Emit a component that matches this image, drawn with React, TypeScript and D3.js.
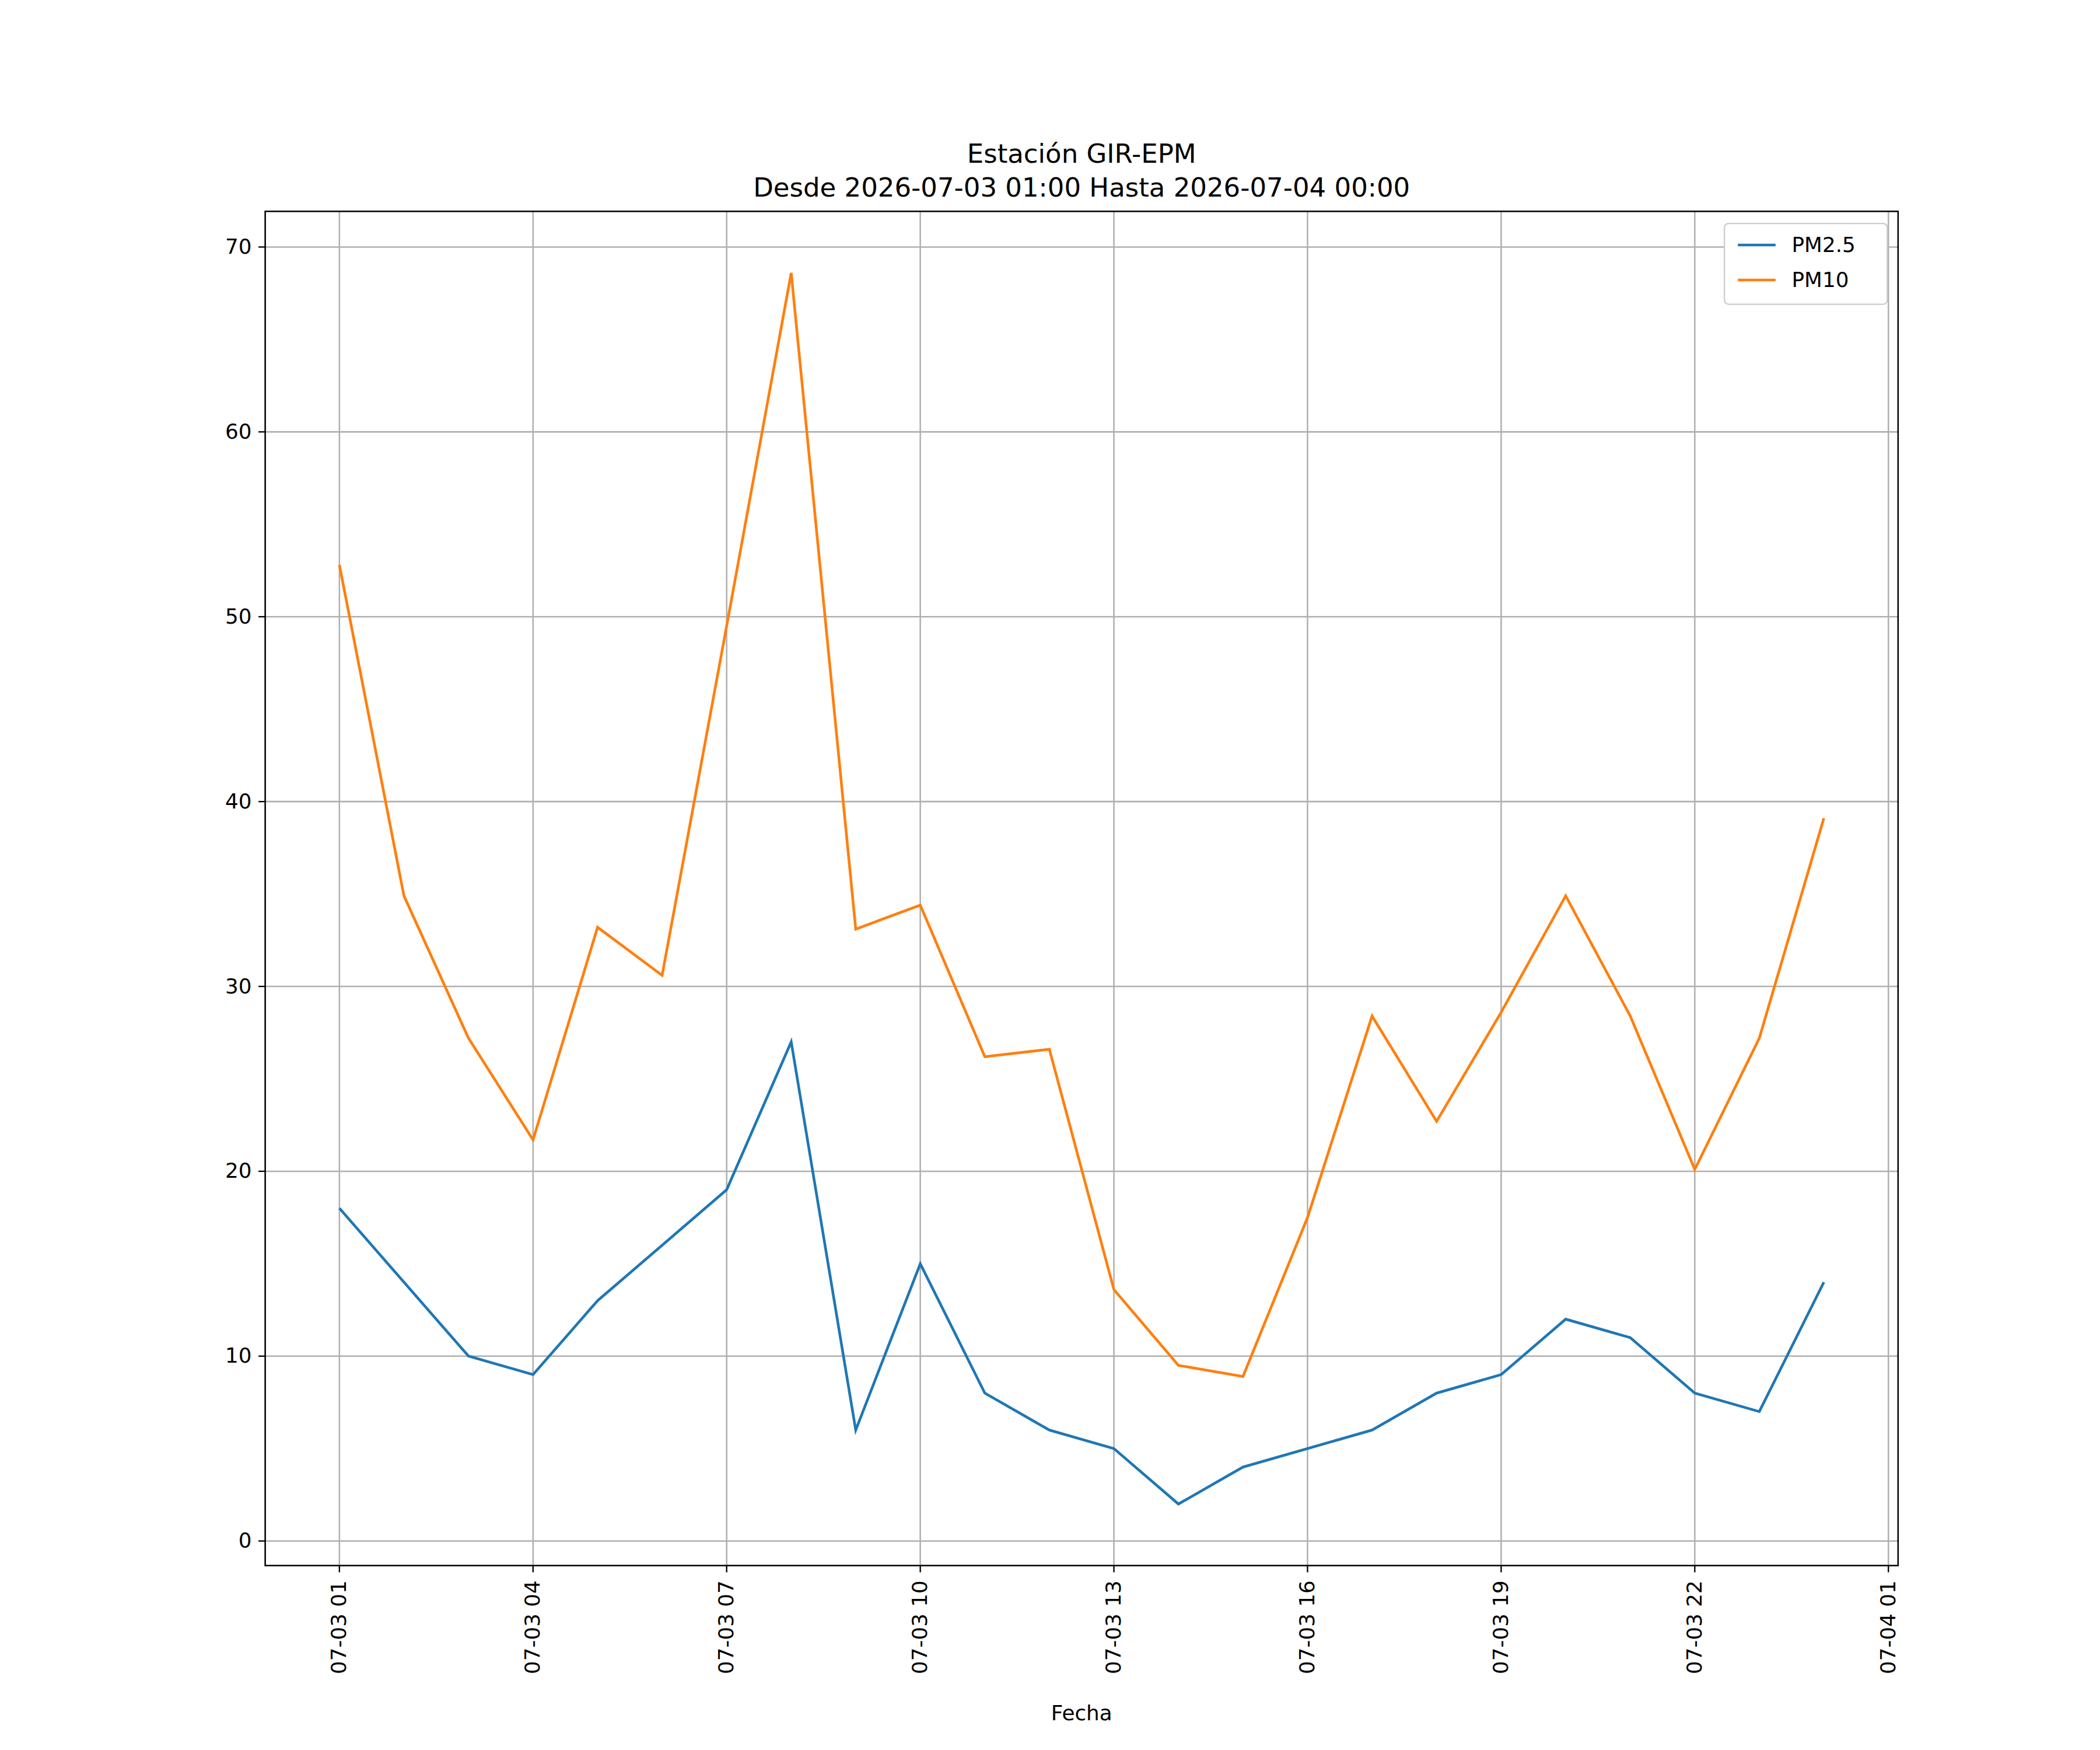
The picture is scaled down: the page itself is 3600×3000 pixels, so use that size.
import React from "react";
import * as d3 from "d3";

const hours = d3.range(24).map((i) => new Date(2026, 6, 3, 1 + i));
const pm25 = [18, 14, 10, 9, 13, 16, 19, 27, 6, 15, 8, 6, 5, 2, 4, 5, 6, 8, 9, 12, 11, 8, 7, 14];
const pm10 = [52.8, 34.9, 27.2, 21.7, 33.2, 30.6, 49.5, 68.6, 33.1, 34.4, 26.2, 26.6, 13.6, 9.5, 8.9, 17.5, 28.4, 22.7, 28.6, 34.9, 28.4, 20.1, 27.2, 39.1];
const xTicks = d3.range(9).map((i) => new Date(2026, 6, 3, 1 + i * 3));
const yTicks = [0, 10, 20, 30, 40, 50, 60, 70];
const series = [
  { name: "PM2.5", values: pm25, color: "#1f77b4" },
  { name: "PM10", values: pm10, color: "#ff7f0e" },
];

export default function App() {
  const L = 197, R = 1410, T = 157, B = 1163;
  const t0 = hours[0].getTime(), t1 = hours[23].getTime();
  const pad = (t1 - t0) * 0.05;
  const x = d3.scaleTime().domain([new Date(t0 - pad), new Date(t1 + pad)]).range([L, R]);
  const all = [...pm25, ...pm10];
  const mn = d3.min(all)!, mx = d3.max(all)!;
  const yp = (mx - mn) * 0.05;
  const y = d3.scaleLinear().domain([mn - yp, mx + yp]).range([B, T]);
  const fmt = d3.timeFormat("%m-%d %H");
  const line = (vals: number[]) =>
    d3.line<number>().x((_, i) => x(hours[i])).y((d) => y(d))(vals)!;

  return (
    <svg width={3600} height={3000} viewBox="0 0 1560 1300"
      style={{ fontFamily: "DejaVu Sans", position: "absolute", left: 0, top: 0 }}>
      <rect width={1560} height={1300} fill="#fff" />
      <text x={(L + R) / 2} y={121} textAnchor="middle" fontSize={19.5}>Estación GIR-EPM</text>
      <text x={(L + R) / 2} y={146} textAnchor="middle" fontSize={19.5}>Desde 2026-07-03 01:00 Hasta 2026-07-04 00:00</text>
      {xTicks.map((t, i) => (
        <g key={i}>
          <line x1={x(t)} x2={x(t)} y1={T} y2={B} stroke="#b0b0b0" strokeWidth={1.1} />
          <line x1={x(t)} x2={x(t)} y1={B} y2={B + 5} stroke="#000" />
          <text transform={`translate(${x(t) + 5},${B + 11}) rotate(-90)`} textAnchor="end" fontSize={15.5}>{fmt(t)}</text>
        </g>
      ))}
      {yTicks.map((v) => (
        <g key={v}>
          <line x1={L} x2={R} y1={y(v)} y2={y(v)} stroke="#b0b0b0" strokeWidth={1.1} />
          <line x1={L - 5} x2={L} y1={y(v)} y2={y(v)} stroke="#000" />
          <text x={L - 10} y={y(v) + 5} textAnchor="end" fontSize={15.5}>{v}</text>
        </g>
      ))}
      {series.map((s) => (
        <path key={s.name} d={line(s.values)} fill="none" stroke={s.color} strokeWidth={2} />
      ))}
      <rect x={L} y={T} width={R - L} height={B - T} fill="none" stroke="#000" strokeWidth={1.1} />
      <text x={(L + R) / 2} y={1278} textAnchor="middle" fontSize={15.5}>Fecha</text>
      <g transform="translate(1281,166)">
        <rect width={121} height={60} fill="#fff" stroke="#ccc" rx={3} />
        {series.map((s, i) => (
          <g key={s.name} transform={`translate(0,${16 + i * 26})`}>
            <line x1={10} x2={38} y1={0} y2={0} stroke={s.color} strokeWidth={2} />
            <text x={50} y={5} fontSize={15.5}>{s.name}</text>
          </g>
        ))}
      </g>
    </svg>
  );
}
